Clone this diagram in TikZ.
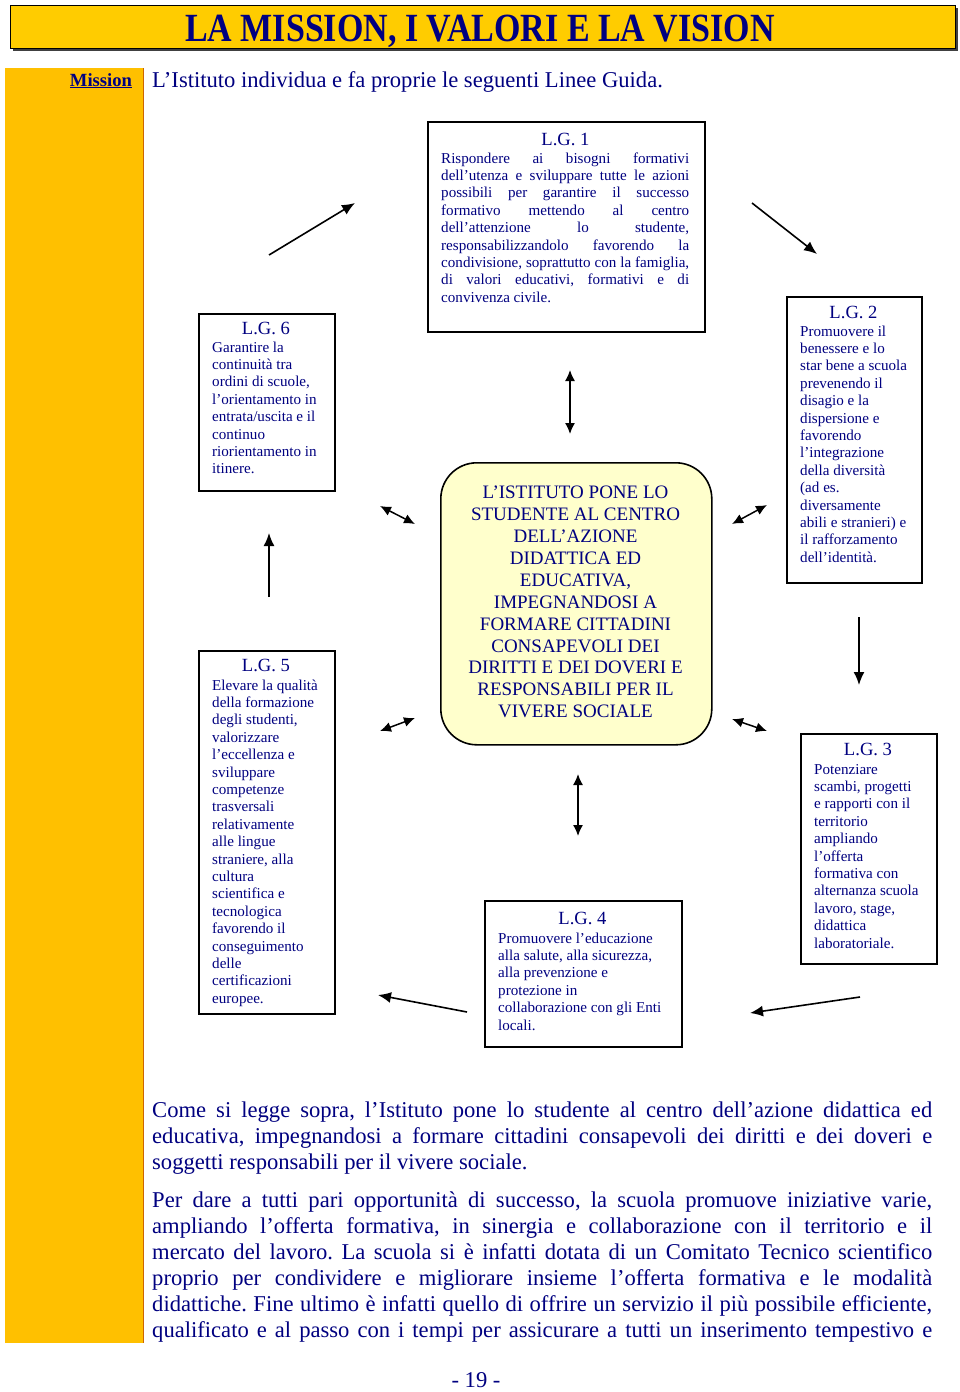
\documentclass[tikz,border=0pt]{standalone}
\usepackage{fontspec}
\setmainfont{Liberation Serif}
\usetikzlibrary{arrows.meta}
\definecolor{navy}{RGB}{0,0,128}
\definecolor{gold}{RGB}{255,204,0}
\definecolor{colyellow}{RGB}{255,192,0}
\definecolor{paleyellow}{RGB}{255,255,204}
\tikzset{
  lgbox/.style={draw=black, line width=1.6pt, fill=white, inner sep=0pt, anchor=north west},
  lgtitle/.style={anchor=base, text=navy, inner sep=0pt, font=\fontsize{18.6}{19}\selectfont},
  lgtext/.style={anchor=north west, text=navy, align=left, inner sep=0pt, font=\fontsize{15.1}{17.4}\selectfont},
  bodytext/.style={anchor=north west, text=navy, align=left, inner sep=0pt, font=\fontsize{22.6}{26}\selectfont},
  arr/.style={-{Latex[length=13pt,width=11pt]}, line width=1.6pt},
  darr/.style={{Latex[length=11pt,width=10pt]}-{Latex[length=11pt,width=10pt]}, line width=1.5pt},
}
\newcommand{\jl}[1]{\makebox[248pt][s]{#1}}
\newcommand{\bl}[1]{\makebox[780pt][s]{#1}}
\frenchspacing
\begin{document}
\begin{tikzpicture}[x=1pt,y=-1pt]
\useasboundingbox (0,0) rectangle (960,1392);
\fill[white] (0,0) rectangle (960,1392);
% title bar
\fill[black!75] (13,8) rectangle (958,51);
\node[draw=black, line width=1.2pt, fill=gold, minimum width=945pt, minimum height=43pt, anchor=north west, inner sep=0pt] (titlebar) at (10,5) {};
\node[anchor=base, text=navy, inner sep=0pt] (title) at (480,41) {\scalebox{0.85}[1]{\fontsize{40}{40}\selectfont\bfseries LA MISSION, I VALORI E LA VISION}};
% left yellow column
\fill[colyellow] (5,68) rectangle (143,1343);
\draw[orange!80!black, line width=0.8pt] (143,68) -- (143,1343);
\node[anchor=base, text=navy, inner sep=0pt, font=\fontsize{18.6}{19}\selectfont\bfseries] (mission) at (101,86) {\underline{Mission}};
\node[anchor=base west, text=navy, inner sep=0pt, font=\fontsize{22.6}{26}\selectfont] (intro) at (152,87) {L’Istituto individua e fa proprie le seguenti Linee Guida.};

% LG1
\node[lgbox, minimum width=277pt, minimum height=210pt] (b1) at (427,121) {};
\node[lgtitle] (t1) at (565.5,145) {L.G. 1};
\node[lgtext] (x1) at (441,150.8) {\strut\jl{Rispondere ai bisogni formativi}\\
\jl{dell’utenza e sviluppare tutte le azioni}\\
\jl{possibili per garantire il successo}\\
\jl{formativo mettendo al centro}\\
\jl{dell’attenzione lo studente,}\\
\jl{responsabilizzandolo favorendo la}\\
\jl{condivisione, soprattutto con la famiglia,}\\
\jl{di valori educativi, formativi e di}\\
convivenza civile.};

% LG6
\node[lgbox, minimum width=136pt, minimum height=177pt] (b6) at (198,313) {};
\node[lgtitle] (t6) at (266,334) {L.G. 6};
\node[lgtext] (x6) at (212,339.8) {\strut Garantire la\\continuità tra\\ordini di scuole,\\l’orientamento in\\entrata/uscita e il\\continuo\\riorientamento in\\itinere.};

% LG2
\node[lgbox, minimum width=135pt, minimum height=286pt] (b2) at (786,296) {};
\node[lgtitle] (t2) at (853.5,318) {L.G. 2};
\node[lgtext] (x2) at (800,323.8) {\strut Promuovere il\\benessere e lo\\star bene a scuola\\prevenendo il\\disagio e la\\dispersione e\\favorendo\\l’integrazione\\della diversità\\(ad es.\\diversamente\\abili e stranieri) e\\il rafforzamento\\dell’identità.};

% LG5
\node[lgbox, minimum width=136pt, minimum height=363pt] (b5) at (198,650) {};
\node[lgtitle] (t5) at (266,671) {L.G. 5};
\node[lgtext] (x5) at (212,677.8) {\strut Elevare la qualità\\della formazione\\degli studenti,\\valorizzare\\l’eccellenza e\\sviluppare\\competenze\\trasversali\\relativamente\\alle lingue\\straniere, alla\\cultura\\scientifica e\\tecnologica\\favorendo il\\conseguimento\\delle\\certificazioni\\europee.};

% LG3
\node[lgbox, minimum width=136pt, minimum height=230pt] (b3) at (800,733) {};
\node[lgtitle] (t3) at (868,755) {L.G. 3};
\node[lgtext] (x3) at (814,761.8) {\strut Potenziare\\scambi, progetti\\e rapporti con il\\territorio\\ampliando\\l’offerta\\formativa con\\alternanza scuola\\lavoro, stage,\\didattica\\laboratoriale.};

% LG4
\node[lgbox, minimum width=197pt, minimum height=146pt] (b4) at (484,900) {};
\node[lgtitle] (t4) at (582.5,924) {L.G. 4};
\node[lgtext] (x4) at (498,930.8) {\strut Promuovere l’educazione\\alla salute, alla sicurezza,\\alla prevenzione e\\protezione in\\collaborazione con gli Enti\\locali.};

% centre
\node[draw=black, line width=1.6pt, fill=paleyellow, rounded corners=36pt, minimum width=271pt, minimum height=282pt, anchor=north west, inner sep=0pt] (centre) at (440,462) {};
\node[anchor=north, text=navy, align=center, inner sep=0pt, font=\fontsize{19}{21.9}\selectfont] (ctext) at (575.5,483.2) {\strut L’ISTITUTO PONE LO\\STUDENTE AL CENTRO\\DELL’AZIONE\\DIDATTICA ED\\EDUCATIVA,\\IMPEGNANDOSI A\\FORMARE CITTADINI\\CONSAPEVOLI DEI\\DIRITTI E DEI DOVERI E\\RESPONSABILI PER IL\\VIVERE SOCIALE};

% arrows
\coordinate (a1s) at (269,255); \coordinate (a1e) at (355,203);
\coordinate (a2s) at (752,203); \coordinate (a2e) at (817,254);
\coordinate (a3s) at (269,597); \coordinate (a3e) at (269,533);
\coordinate (a4s) at (859,617); \coordinate (a4e) at (859,685);
\coordinate (a5s) at (467,1012); \coordinate (a5e) at (378,995);
\coordinate (a6s) at (860,997); \coordinate (a6e) at (750,1013);
\draw[arr] (a1s) -- (a1e);
\draw[arr] (a2s) -- (a2e);
\draw[arr] (a3s) -- (a3e);
\draw[arr] (a4s) -- (a4e);
\draw[arr] (a5s) -- (a5e);
\draw[arr] (a6s) -- (a6e);
\coordinate (d1a) at (570,370); \coordinate (d1b) at (570,434);
\coordinate (d2a) at (380,506); \coordinate (d2b) at (415,524);
\coordinate (d3a) at (732,524); \coordinate (d3b) at (767,505);
\coordinate (d4a) at (380,731); \coordinate (d4b) at (415,718);
\coordinate (d5a) at (732,719); \coordinate (d5b) at (767,731);
\coordinate (d6a) at (578,774); \coordinate (d6b) at (578,836);
\draw[darr] (d1a) -- (d1b);
\draw[darr] (d2a) -- (d2b);
\draw[darr] (d3a) -- (d3b);
\draw[darr] (d4a) -- (d4b);
\draw[darr] (d5a) -- (d5b);
\draw[darr] (d6a) -- (d6b);

% bottom text
\node[bodytext] (p1) at (152,1098.8) {\strut\bl{Come si legge sopra, l’Istituto pone lo studente al centro dell’azione didattica ed}\\
\bl{educativa, impegnandosi a formare cittadini consapevoli dei diritti e dei doveri e}\\
soggetti responsabili per il vivere sociale.};
\node[bodytext] (p2) at (152,1188.8) {\strut\bl{Per dare a tutti pari opportunità di successo, la scuola promuove iniziative varie,}\\
\bl{ampliando l’offerta formativa, in sinergia e collaborazione con il territorio e il}\\
\bl{mercato del lavoro. La scuola si è infatti dotata di un Comitato Tecnico scientifico}\\
\bl{proprio per condividere e migliorare insieme l’offerta formativa e le modalità}\\
\bl{didattiche. Fine ultimo è infatti quello di offrire un servizio il più possibile efficiente,}\\
\bl{qualificato e al passo con i tempi per assicurare a tutti un inserimento tempestivo e}};
\node[anchor=base, text=navy, inner sep=0pt, font=\fontsize{22.6}{26}\selectfont] (pagenum) at (476,1387) {- 19 -};
\end{tikzpicture}
\end{document}
